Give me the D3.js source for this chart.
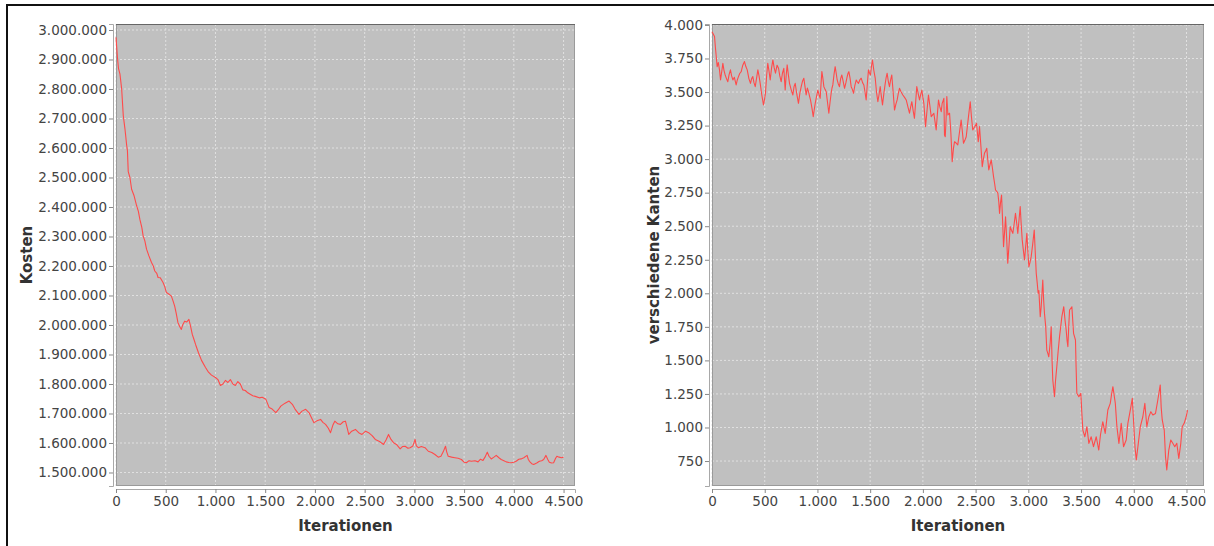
<!DOCTYPE html>
<html>
<head>
<meta charset="utf-8">
<script src="https://cdn.jsdelivr.net/npm/d3@7"></script>
<style>
  body { margin: 0; background: #fff; }
  svg { display: block; }
  text { font-family: "DejaVu Sans", Tahoma, sans-serif; }
</style>
</head>
<body>
<svg id="chart" width="1214" height="546"></svg>
<script>
// Kosten über die Iterationen (linkes Diagramm)
const costIter = [0,15,25,40,57,73,90,107,115,123,140,157,180,207,225,240,260,273,290,307,330,357,375,390,410,423,445,473,490,507,530,557,575,590,605,623,640,657,670,690,710,733,750,767,785,800,830,860,900,930,960,1000,1025,1050,1075,1100,1125,1150,1175,1200,1225,1250,1275,1300,1325,1350,1375,1400,1440,1470,1507,1540,1570,1607,1630,1657,1700,1740,1773,1800,1840,1870,1907,1940,1990,2020,2057,2080,2107,2135,2157,2180,2200,2230,2257,2285,2307,2325,2340,2370,2407,2440,2473,2510,2540,2575,2607,2650,2690,2715,2740,2765,2790,2820,2857,2880,2907,2935,2957,2985,3007,3020,3040,3070,3107,3140,3175,3207,3240,3267,3290,3313,3325,3340,3375,3407,3440,3473,3500,3523,3550,3573,3610,3640,3665,3690,3710,3733,3750,3773,3800,3823,3850,3873,3900,3923,3950,3973,4000,4023,4050,4073,4100,4133,4145,4157,4180,4200,4230,4257,4280,4300,4323,4340,4357,4380,4400,4420,4433,4455,4480,4500];
const costValues = [2975000,2905000,2870000,2850000,2800000,2710000,2665000,2610000,2590000,2520000,2500000,2460000,2440000,2405000,2385000,2358000,2330000,2302000,2285000,2257000,2235000,2212000,2200000,2183000,2175000,2161000,2160000,2144000,2130000,2110000,2105000,2098000,2080000,2064000,2040000,2008000,1995000,1985000,2000000,2013000,2010000,2019000,1995000,1968000,1950000,1934000,1905000,1880000,1856000,1840000,1830000,1822000,1815000,1795000,1800000,1812000,1805000,1815000,1800000,1795000,1808000,1800000,1780000,1778000,1770000,1765000,1760000,1758000,1753000,1755000,1748000,1720000,1715000,1703000,1712000,1725000,1735000,1742000,1731000,1715000,1697000,1708000,1714000,1703000,1669000,1675000,1680000,1670000,1663000,1650000,1635000,1660000,1674000,1665000,1663000,1672000,1674000,1650000,1629000,1640000,1646000,1635000,1629000,1640000,1635000,1625000,1612000,1605000,1595000,1610000,1629000,1612000,1601000,1595000,1580000,1588000,1589000,1582000,1584000,1590000,1612000,1590000,1584000,1588000,1584000,1572000,1568000,1561000,1552000,1555000,1570000,1589000,1570000,1555000,1552000,1550000,1548000,1544000,1535000,1533000,1540000,1538000,1540000,1536000,1545000,1541000,1552000,1569000,1555000,1546000,1552000,1558000,1550000,1544000,1540000,1536000,1534000,1533000,1535000,1538000,1545000,1546000,1550000,1558000,1545000,1538000,1530000,1527000,1532000,1538000,1540000,1544000,1558000,1545000,1535000,1532000,1533000,1548000,1555000,1552000,1550000,1552000];

// verschiedene Kanten über die Iterationen (rechtes Diagramm)
const edgeIter = [0,8,24,33,49,60,71,81,92,103,114,125,137,150,162,175,186,198,212,229,240,251,264,277,292,308,321,334,350,365,376,387,398,410,422,435,446,457,472,488,497,507,518,529,540,552,565,577,590,602,617,631,643,656,668,681,688,694,703,713,724,735,750,767,778,789,805,820,833,846,858,871,882,893,904,915,925,934,948,960,970,979,992,1004,1015,1026,1034,1042,1052,1061,1072,1083,1096,1108,1119,1130,1138,1146,1157,1168,1178,1187,1198,1209,1220,1231,1244,1257,1270,1282,1290,1298,1310,1320,1331,1342,1355,1368,1379,1389,1402,1415,1428,1440,1451,1462,1473,1484,1494,1503,1512,1522,1535,1548,1560,1573,1584,1595,1606,1617,1630,1643,1652,1661,1672,1683,1694,1705,1718,1731,1744,1756,1767,1778,1794,1810,1826,1842,1858,1873,1884,1895,1908,1920,1931,1942,1955,1968,1979,1990,2000,2009,2017,2025,2039,2053,2066,2079,2092,2104,2115,2126,2137,2148,2160,2174,2183,2199,2205,2212,2220,2227,2237,2253,2265,2278,2290,2300,2315,2331,2347,2363,2375,2385,2398,2411,2430,2449,2460,2473,2490,2509,2525,2537,2550,2563,2574,2584,2595,2606,2615,2625,2637,2648,2660,2670,2680,2689,2700,2711,2720,2727,2737,2746,2756,2765,2775,2784,2795,2805,2817,2828,2840,2853,2866,2878,2890,2900,2912,2923,2932,2942,2953,2964,2975,2986,2995,3005,3016,3027,3042,3056,3066,3075,3084,3093,3100,3113,3122,3137,3145,3153,3165,3175,3185,3194,3207,3217,3225,3232,3248,3258,3270,3283,3296,3307,3318,3336,3348,3359,3367,3375,3383,3391,3413,3421,3429,3447,3453,3460,3479,3498,3508,3517,3536,3555,3574,3596,3618,3644,3668,3684,3706,3729,3754,3777,3790,3802,3825,3840,3859,3881,3903,3928,3944,3967,3986,4001,4012,4024,4043,4062,4086,4105,4124,4143,4162,4181,4206,4228,4251,4260,4270,4289,4301,4313,4332,4351,4370,4389,4408,4427,4446,4459,4478,4497,4510];
const edgeValues = [3950,3938,3913,3826,3689,3720,3665,3590,3650,3714,3660,3627,3600,3577,3630,3665,3620,3590,3610,3553,3590,3615,3640,3652,3700,3727,3690,3665,3600,3565,3600,3615,3570,3540,3600,3665,3620,3565,3480,3404,3440,3491,3620,3714,3660,3590,3680,3739,3680,3640,3700,3677,3620,3577,3640,3677,3590,3515,3620,3702,3630,3565,3520,3478,3540,3565,3480,3416,3490,3540,3580,3603,3540,3478,3530,3503,3470,3441,3380,3317,3370,3416,3470,3515,3480,3453,3560,3652,3600,3540,3520,3503,3420,3342,3420,3491,3530,3553,3630,3689,3640,3590,3560,3540,3600,3627,3580,3528,3570,3615,3640,3652,3600,3540,3520,3491,3550,3590,3575,3565,3590,3603,3570,3553,3500,3441,3560,3665,3640,3627,3690,3739,3660,3603,3500,3428,3480,3540,3470,3404,3490,3565,3610,3640,3580,3540,3590,3627,3500,3366,3410,3441,3490,3528,3500,3478,3460,3441,3390,3342,3390,3428,3360,3304,3420,3540,3490,3441,3480,3515,3460,3416,3330,3242,3360,3478,3400,3317,3330,3342,3280,3217,3330,3441,3391,3354,3416,3453,3180,3167,3300,3466,3329,3342,3200,2981,3080,3130,3120,3106,3200,3292,3200,3118,3140,3167,3300,3428,3320,3217,3240,3267,3130,3242,3100,2944,3000,3043,3060,3081,3000,2919,2960,2994,2930,2870,2820,2770,2760,2746,2680,2596,2680,2733,2540,2347,2460,2571,2400,2224,2360,2497,2470,2447,2520,2596,2520,2447,2550,2646,2520,2398,2320,2248,2350,2447,2320,2198,2230,2273,2370,2472,2300,2149,2080,2000,2020,1826,1900,2099,1950,1851,1750,1577,1552,1527,1627,1751,1500,1354,1229,1350,1453,1570,1677,1750,1826,1900,1800,1727,1650,1602,1750,1876,1900,1800,1702,1652,1450,1255,1229,1255,1100,981,931,1006,882,931,857,931,832,944,1043,956,1130,1180,1250,1304,1180,1006,882,1031,857,907,1031,1130,1217,1006,850,758,882,1006,1080,1180,1006,1080,1118,1093,1105,1205,1317,1150,1056,981,782,683,832,907,882,857,882,770,882,1006,1031,1080,1130];

const costTicks = [1500000,1600000,1700000,1800000,1900000,2000000,2100000,2200000,2300000,2400000,2500000,2600000,2700000,2800000,2900000,3000000];
const edgeTicks = [750,1000,1250,1500,1750,2000,2250,2500,2750,3000,3250,3500,3750,4000];
const iterTicks = [0,500,1000,1500,2000,2500,3000,3500,4000,4500];

const de = d3.formatLocale({decimal: ",", thousands: ".", grouping: [3], currency: ["", " €"]});
const fmt = de.format(",d");

const svg = d3.select("#chart");

// Rahmen
svg.append("rect")
    .attr("x", 7).attr("y", 5)
    .attr("width", 1220).attr("height", 560)
    .attr("fill", "none")
    .attr("stroke", "#111")
    .attr("stroke-width", 2);

function drawPanel(p) {
    const x = d3.scaleLinear().domain(p.xDomain).range([p.left, p.right]);
    const y = d3.scaleLinear().domain(p.yDomain).range([p.bottom, p.top]);
    const g = svg.append("g");

    g.append("rect")
        .attr("x", p.left).attr("y", p.top)
        .attr("width", p.right - p.left).attr("height", p.bottom - p.top)
        .attr("fill", "#c0c0c0");

    // gridlines
    g.selectAll(".gx").data(iterTicks).enter().append("line")
        .attr("x1", d => x(d)).attr("x2", d => x(d))
        .attr("y1", p.top).attr("y2", p.bottom)
        .attr("stroke", "#e0e0e0").attr("stroke-width", 1)
        .attr("stroke-dasharray", "2,2");
    g.selectAll(".gy").data(p.ticks).enter().append("line")
        .attr("x1", p.left).attr("x2", p.right)
        .attr("y1", d => y(d)).attr("y2", d => y(d))
        .attr("stroke", "#e0e0e0").attr("stroke-width", 1)
        .attr("stroke-dasharray", "2,2");

    // plot outline
    g.append("rect")
        .attr("x", p.left + 0.5).attr("y", p.top + 0.5)
        .attr("width", p.right - p.left - 1).attr("height", p.bottom - p.top - 1)
        .attr("fill", "none").attr("stroke", "#9a9a9a");
    g.append("line")
        .attr("x1", p.left).attr("x2", p.right)
        .attr("y1", p.top + 0.5).attr("y2", p.top + 0.5)
        .attr("stroke", "#666");

    // series
    const line = d3.line()
        .x((d, i) => x(p.iter[i]))
        .y(d => y(d));
    g.append("path")
        .datum(p.values)
        .attr("fill", "none")
        .attr("stroke", "#ff4a4a")
        .attr("stroke-width", 1.1)
        .attr("stroke-linejoin", "round")
        .attr("d", line);

    // axes, offset from the plot
    const yAxis = d3.axisLeft(y).tickValues(p.ticks).tickFormat(fmt).tickSizeOuter(0).tickSize(4).tickPadding(2);
    const xAxis = d3.axisBottom(x).tickValues(iterTicks).tickFormat(fmt).tickSizeOuter(0).tickSize(4).tickPadding(3);

    const ya = g.append("g").attr("transform", `translate(${p.left - 3},0)`).call(yAxis);
    const xa = g.append("g").attr("transform", `translate(0,${p.bottom + 3})`).call(xAxis);
    [ya, xa].forEach(a => {
        a.select(".domain").attr("stroke", "#a8a8a8");
        a.selectAll(".tick line").attr("stroke", "#888");
        a.selectAll(".tick text")
            .attr("fill", "#444")
            .style("font-size", "13.5px")
            .style("font-family", "'DejaVu Sans', Tahoma, sans-serif");
    });

    g.append("text")
        .attr("x", (p.left + p.right) / 2 + p.xTitleShift)
        .attr("y", 531)
        .attr("text-anchor", "middle")
        .attr("fill", "#333")
        .style("font-size", "15px")
        .style("font-weight", "bold")
        .text("Iterationen");

    g.append("text")
        .attr("transform", `translate(${p.yTitleX},${(p.top + p.bottom) / 2}) rotate(-90)`)
        .attr("text-anchor", "middle")
        .attr("fill", "#333")
        .style("font-size", "15px")
        .style("font-weight", "bold")
        .text(p.yTitle);
}

drawPanel({
    left: 116, right: 575, top: 24, bottom: 486,
    xDomain: [0, 4615], yDomain: [1454200, 3020300],
    iter: costIter, values: costValues, ticks: costTicks,
    yTitle: "Kosten", yTitleX: 32, xTitleShift: 0
});

drawPanel({
    left: 712, right: 1204, top: 24, bottom: 486,
    xDomain: [0, 4666], yDomain: [564, 4007],
    iter: edgeIter, values: edgeValues, ticks: edgeTicks,
    yTitle: "verschiedene Kanten", yTitleX: 659, xTitleShift: 0
});
</script>
</body>
</html>
